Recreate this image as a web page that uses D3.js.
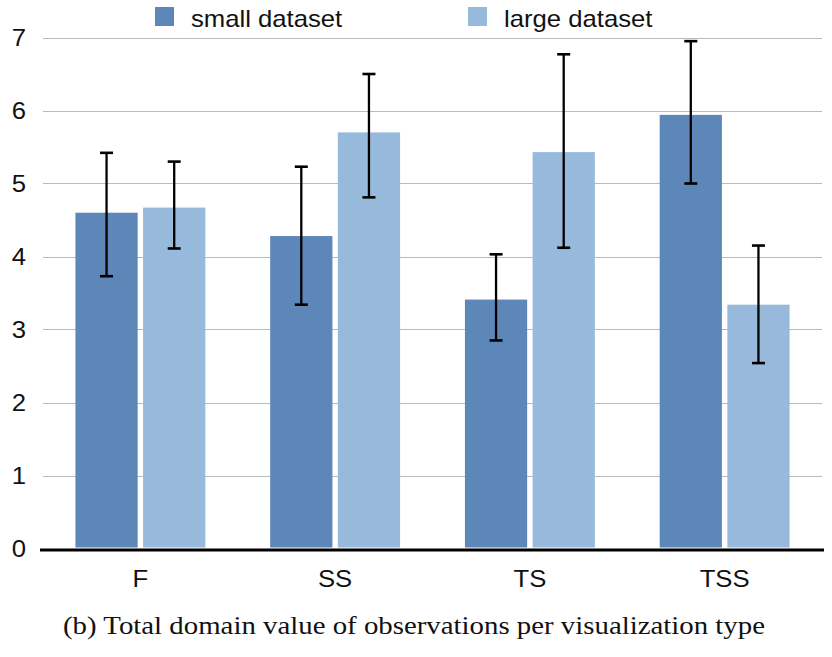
<!DOCTYPE html>
<html>
<head>
<meta charset="utf-8">
<script src="https://cdn.jsdelivr.net/npm/d3@7/dist/d3.min.js"></script>
<style>
  html, body { margin: 0; padding: 0; background: #fff; }
  svg { display: block; }
</style>
</head>
<body>
<svg id="chart" width="832" height="657"></svg>
<script>
// ---- data ----
const categories = ["F", "SS", "TS", "TSS"];
const seriesNames = ["small dataset", "large dataset"];
const smallValues = [4.60, 4.28, 3.41, 5.94];
const largeValues = [4.67, 5.70, 5.43, 3.34];
const smallErrLow = [3.73, 3.34, 2.85, 5.00];
const smallErrHigh = [5.42, 5.23, 4.03, 6.95];
const largeErrLow = [4.11, 4.81, 4.12, 2.54];
const largeErrHigh = [5.30, 6.50, 6.77, 4.15];
const yTicks = [0, 1, 2, 3, 4, 5, 6, 7];
const caption = "(b) Total domain value of observations per visualization type";

const colors = ["#5e87b9", "#97b9dc"];
const sansFont = "Liberation Sans, Arial, Helvetica, sans-serif";
const sx = 1.07; // horizontal stretch of the reference text

const svg = d3.select("#chart");

const x0 = d3.scaleBand().domain(categories).range([43, 822]).paddingInner(0.333).paddingOuter(0.1665);
const x1 = d3.scaleBand().domain(seriesNames).range([0, x0.bandwidth()]).paddingInner(0.08);
const y = d3.scaleLinear().domain([0, 7]).range([548.5, 37.5]);

// gridlines
svg.append("g").selectAll("line").data(yTicks.filter(d => d > 0)).join("line")
  .attr("x1", 43).attr("x2", 822)
  .attr("y1", d => Math.round(y(d)) + 0.5).attr("y2", d => Math.round(y(d)) + 0.5)
  .attr("stroke", "#bbbbbb").attr("stroke-width", 1.2);

// y tick labels
svg.append("g").selectAll("text").data(yTicks).join("text")
  .attr("transform", d => `translate(26,${y(d) + 8.5}) scale(${sx},1)`)
  .attr("text-anchor", "end")
  .attr("font-family", sansFont)
  .attr("font-size", 24).attr("fill", "#111")
  .text(d => d);

const rows = categories.map((c, i) => ({
  cat: c,
  bars: [
    { s: seriesNames[0], v: smallValues[i], lo: smallErrLow[i], hi: smallErrHigh[i], c: colors[0] },
    { s: seriesNames[1], v: largeValues[i], lo: largeErrLow[i], hi: largeErrHigh[i], c: colors[1] }
  ]
}));

const groups = svg.append("g").selectAll("g").data(rows).join("g")
  .attr("transform", d => `translate(${x0(d.cat)},0)`);

groups.selectAll("rect").data(d => d.bars).join("rect")
  .attr("x", d => x1(d.s)).attr("width", x1.bandwidth())
  .attr("y", d => y(d.v)).attr("height", d => y(0) - 1 - y(d.v))
  .attr("fill", d => d.c);

// error bars
const capW = 13;
const cx = d => x1(d.s) + x1.bandwidth() / 2;
const eb = groups.selectAll("g.eb").data(d => d.bars).join("g").attr("class", "eb");
eb.append("line")
  .attr("x1", cx).attr("x2", cx)
  .attr("y1", d => y(d.hi)).attr("y2", d => y(d.lo))
  .attr("stroke", "#000").attr("stroke-width", 2.3);
eb.append("line")
  .attr("x1", d => cx(d) - capW / 2).attr("x2", d => cx(d) + capW / 2)
  .attr("y1", d => y(d.hi)).attr("y2", d => y(d.hi))
  .attr("stroke", "#000").attr("stroke-width", 2.6);
eb.append("line")
  .attr("x1", d => cx(d) - capW / 2).attr("x2", d => cx(d) + capW / 2)
  .attr("y1", d => y(d.lo)).attr("y2", d => y(d.lo))
  .attr("stroke", "#000").attr("stroke-width", 2.6);

// x axis line
svg.append("line").attr("x1", 40).attr("x2", 824)
  .attr("y1", y(0) + 1.5).attr("y2", y(0) + 1.5)
  .attr("stroke", "#000").attr("stroke-width", 3);

// x labels
svg.append("g").selectAll("text").data(categories).join("text")
  .attr("transform", d => `translate(${x0(d) + x0.bandwidth() / 2},587) scale(${sx},1)`)
  .attr("text-anchor", "middle")
  .attr("font-family", sansFont)
  .attr("font-size", 24).attr("fill", "#111")
  .text(d => d);

// legend
const legendX = [155, 468];
const lg = svg.append("g").selectAll("g").data(seriesNames).join("g")
  .attr("transform", (d, i) => `translate(${legendX[i]},7)`);
lg.append("rect").attr("width", 19).attr("height", 19).attr("fill", (d, i) => colors[i]);
lg.append("text")
  .attr("transform", `translate(36,20) scale(${sx},1)`)
  .attr("font-family", sansFont)
  .attr("font-size", 24).attr("fill", "#111")
  .text(d => d);

// caption
svg.append("text").attr("x", 63).attr("y", 634)
  .attr("font-family", "Liberation Serif, Times New Roman, serif")
  .attr("font-size", 26).attr("fill", "#111")
  .attr("textLength", 702).attr("lengthAdjust", "spacingAndGlyphs")
  .text(caption);
</script>
</body>
</html>
